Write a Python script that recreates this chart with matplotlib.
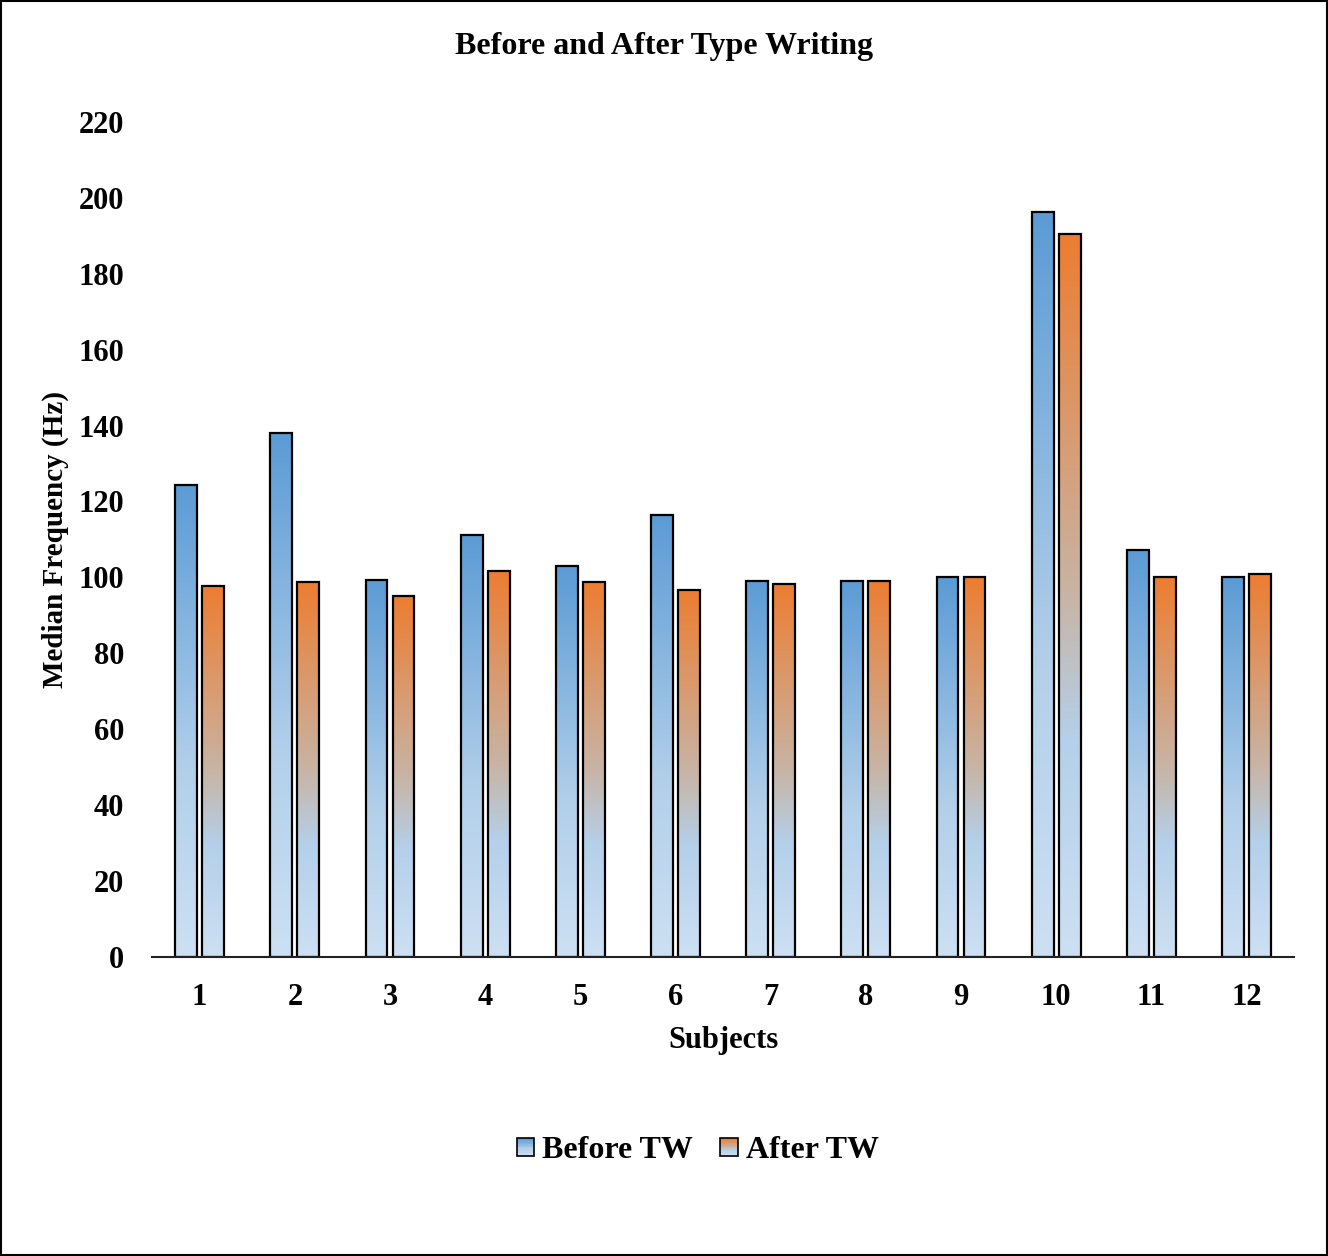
import numpy as np
import matplotlib
matplotlib.use("Agg")
import matplotlib.pyplot as plt
from matplotlib.colors import LinearSegmentedColormap
from matplotlib.patches import Rectangle
from matplotlib.legend_handler import HandlerBase

plt.rcParams['font.family'] = ['Liberation Serif', 'DejaVu Serif']
plt.rcParams['font.weight'] = 'bold'

subjects = ["1", "2", "3", "4", "5", "6", "7", "8", "9", "10", "11", "12"]
before_tw = [124.4, 138.1, 99.3, 111.2, 103.0, 116.5, 99.1, 99.1, 100.1, 196.3, 107.2, 100.1]
after_tw = [97.8, 98.8, 95.1, 101.7, 98.8, 96.7, 98.3, 99.1, 100.1, 190.5, 100.1, 100.9]

# gradients run from bar bottom (0) to bar top (1)
blue_grad = LinearSegmentedColormap.from_list(
    "blue_grad", [(0.0, "#CDE0F3"), (0.4, "#B2CFEA"), (1.0, "#5B9BD5")])
orange_grad = LinearSegmentedColormap.from_list(
    "orange_grad", [(0.0, "#CDE0F3"), (0.3, "#B4D0EA"), (0.5, "#C8B4A5"), (1.0, "#ED7D31")])


class GradientHandler(HandlerBase):
    def __init__(self, cmap, n=12):
        super().__init__()
        self.cmap = cmap
        self.n = n

    def create_artists(self, legend, orig_handle, xdescent, ydescent, width, height, fontsize, trans):
        size = min(width, height) * 0.92
        x0 = -xdescent + width - size
        y0 = -ydescent + (height - size) / 2
        arts = []
        for i in range(self.n):
            c = self.cmap(1 - (i + 0.5) / self.n)
            arts.append(Rectangle((x0, y0 + size - (i + 1) * size / self.n), size, size / self.n,
                                  facecolor=c, edgecolor="none", transform=trans))
        arts.append(Rectangle((x0, y0), size, size, facecolor="none", edgecolor="black",
                              linewidth=1.2, transform=trans))
        return arts


fig = plt.figure(figsize=(13.28, 12.56), dpi=100)
ax = fig.add_axes([0.1145, 0.2381, 0.86, 0.6648])

x = np.arange(1, len(subjects) + 1)
width = 0.23
offset = 0.142
grad = np.linspace(0, 1, 256).reshape(-1, 1)

for xi, b, a in zip(x, before_tw, after_tw):
    for cx, h, cm in [(xi - offset, b, blue_grad), (xi + offset, a, orange_grad)]:
        ax.imshow(grad, extent=[cx - width / 2, cx + width / 2, 0, h], origin="lower",
                  aspect="auto", cmap=cm, zorder=1)

ax.bar(x - offset, before_tw, width, facecolor="none", edgecolor="black", linewidth=1.6, zorder=2)
ax.bar(x + offset, after_tw, width, facecolor="none", edgecolor="black", linewidth=1.6, zorder=2)

ax.set_xlim(0.5, 12.5)
ax.set_ylim(0, 220)
ax.set_yticks(np.arange(0, 221, 20))
ax.set_xticks(x)
ax.set_xticklabels(subjects)
ax.tick_params(axis="both", length=0, labelsize=22)
ax.tick_params(axis="y", pad=20)
ax.tick_params(axis="x", pad=19)
for lab in ax.get_xticklabels() + ax.get_yticklabels():
    lab.set_fontweight("bold")
for s in ["top", "right", "left"]:
    ax.spines[s].set_visible(False)
ax.spines["bottom"].set_linewidth(1.5)
ax.spines["bottom"].set_color("#222222")

ax.set_xlabel("Subjects", fontsize=22, fontweight="bold", labelpad=10)
ax.set_ylabel("Median Frequency (Hz)", fontsize=21, fontweight="bold", labelpad=7)
fig.text(0.5, 0.963, "Before and After Type Writing", ha="center", va="center",
         fontsize=23, fontweight="bold")

h1 = Rectangle((0, 0), 1, 1)
h2 = Rectangle((0, 0), 1, 1, facecolor="orange")
fig.legend([h1, h2], ["Before TW", "After TW"], loc="center", bbox_to_anchor=(0.525, 0.084),
           ncol=2, frameon=False, prop={"size": 23, "weight": "bold"},
           handler_map={h1: GradientHandler(blue_grad), h2: GradientHandler(orange_grad)},
           handlelength=0.6, handletextpad=0.25, columnspacing=0.8)

fig.patches.append(Rectangle((0.001, 0.001), 0.998, 0.998, transform=fig.transFigure,
                             facecolor="none", edgecolor="black", linewidth=1.5))

fig.savefig("out.png", dpi=100)
